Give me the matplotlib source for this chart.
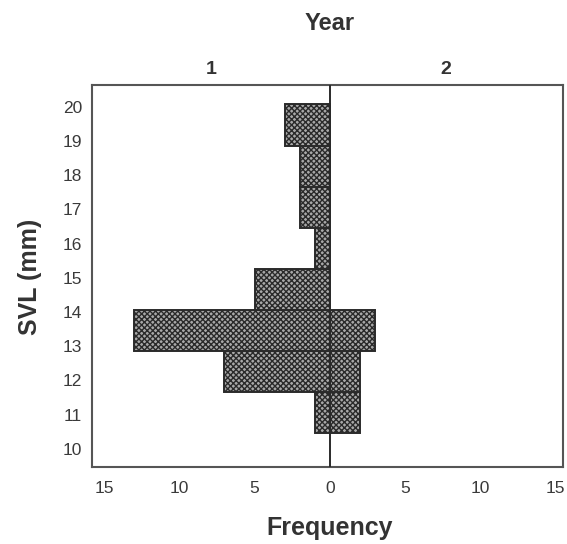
import matplotlib
matplotlib.use("Agg")
import matplotlib.pyplot as plt
import numpy as np

plt.rcParams['font.family'] = ['Liberation Sans', 'DejaVu Sans']
plt.rcParams['hatch.linewidth'] = 1.0

# Data
bin_edges = [10.47, 11.67, 12.87, 14.07, 15.27, 16.47, 17.67, 18.87, 20.07]
year1_counts = [1, 7, 13, 5, 1, 2, 2, 3]
year2_counts = [2, 2, 3, 0, 0, 0, 0, 0]
panel_labels = ["1", "2"]
xticks = [-15, -10, -5, 0, 5, 10, 15]
yticks = [10, 11, 12, 13, 14, 15, 16, 17, 18, 19, 20]

fig = plt.figure(figsize=(5.67, 5.44), dpi=100)
ax = fig.add_axes([92/567, 1-467/544, (563-92)/567, (467-85)/544])

edges = np.array(bin_edges)
bottoms = edges[:-1]
heights = np.diff(edges)

style = dict(align='edge', facecolor='#a8a8a8', edgecolor='#2a2a2a',
             linewidth=1.4, hatch='xxxxxx')
ax.barh(bottoms, [-v for v in year1_counts], height=heights, **style)
mask = [v > 0 for v in year2_counts]
ax.barh(bottoms[mask], np.array(year2_counts)[mask], height=heights[mask], **style)

ax.axvline(0, color='#2a2a2a', linewidth=1.4, zorder=5)

ax.set_xlim(-15.8, 15.5)
ax.set_ylim(9.47, 20.64)
ax.set_xticks(xticks)
ax.set_xticklabels([str(abs(t)) for t in xticks])
ax.set_yticks(yticks)
ax.set_yticklabels([str(t) for t in yticks])
ax.tick_params(axis='both', length=0, labelsize=12.5, labelcolor='#3a3a3a')
ax.tick_params(axis='x', pad=10)
ax.tick_params(axis='y', pad=7)
for s in ax.spines.values():
    s.set_color('#555555')
    s.set_linewidth(1.5)

fig.text(30/567, 1-277/544, 'SVL (mm)', ha='center', va='center', rotation=90,
         fontsize=18, fontweight='bold', color='#333333')
fig.text(330/567, 1-528/544, 'Frequency', ha='center', va='center',
         fontsize=18, fontweight='bold', color='#333333')
fig.text(211/567, 1-69/544, panel_labels[0], ha='center', va='center',
         fontsize=14, fontweight='bold', color='#333333')
fig.text(446/567, 1-69/544, panel_labels[1], ha='center', va='center',
         fontsize=14, fontweight='bold', color='#333333')
fig.text(330/567, 1-24/544, 'Year', ha='center', va='center',
         fontsize=17, fontweight='bold', color='#333333')

fig.savefig('out.png', dpi=100)
